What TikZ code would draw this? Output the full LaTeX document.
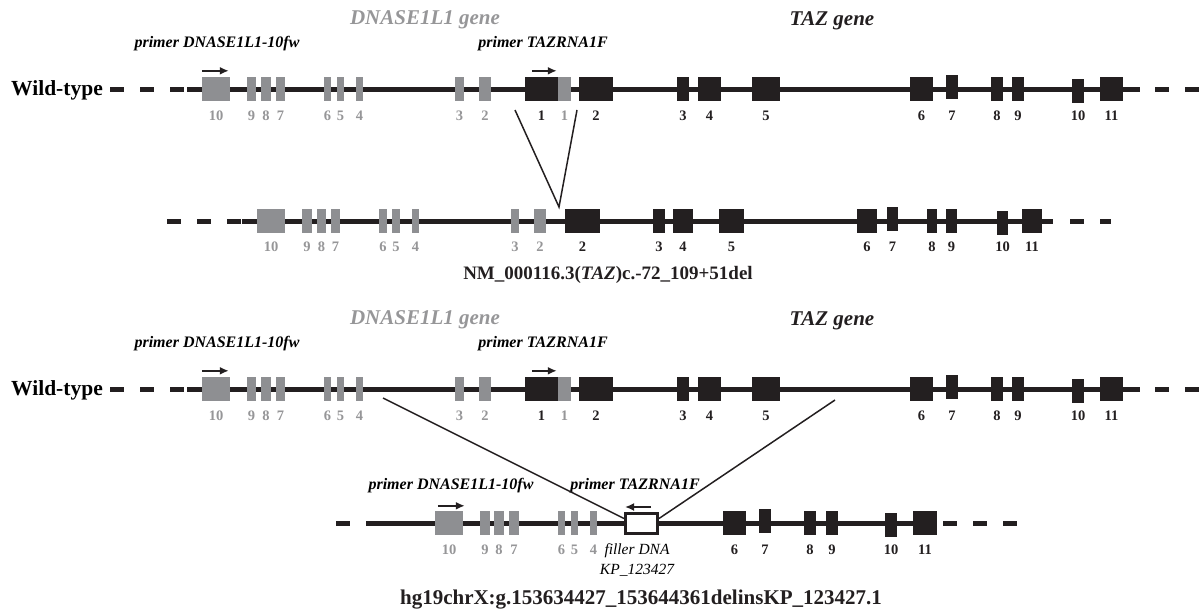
\documentclass[tikz,border=0pt]{standalone}
\usepackage{fontspec}
\setmainfont{Liberation Serif}
\usetikzlibrary{arrows.meta}
\definecolor{exongray}{RGB}{142,143,146}
\definecolor{textgray}{RGB}{150,150,152}
\definecolor{exonblack}{RGB}{35,31,32}

\begin{document}
\begin{tikzpicture}[x=1pt,y=-1pt,
  chrom/.style={line width=5pt,exonblack},
  gap/.style={chrom,dash pattern=on 14pt off 16pt},
  exon/.style={inner sep=0pt,minimum height=24pt},
  gexon/.style={exon,fill=exongray},
  bexon/.style={exon,fill=exonblack},
  num/.style={inner sep=0pt,font=\fontsize{14.5}{15}\selectfont\bfseries},
  gnum/.style={num,textgray},
  bnum/.style={num,exonblack},
  rowname/.style={anchor=east,inner sep=0pt,font=\fontsize{21.5}{25}\selectfont\bfseries},
  gene/.style={inner sep=0pt,font=\fontsize{21}{25}\selectfont\bfseries\itshape},
  primer/.style={inner sep=0pt,font=\fontsize{16}{19}\selectfont\bfseries\itshape},
  parrow/.style={line width=2pt,exonblack,-{Latex[length=9pt,width=8pt]}},
  cut/.style={line width=1.5pt,exonblack},
  hgvs/.style={inner sep=0pt,exonblack,font=\fontsize{19}{23}\selectfont\bfseries}]
\useasboundingbox (0,0) rectangle (1202,610);

% wild-type rows
\foreach \r/\y in {1/89,3/389}{
  \node[rowname] (wt\r) at (103,\y+1) {Wild-type};
  \draw[gap] (110,\y) -- (187,\y);
  \draw[chrom] (187,\y) -- (1140,\y);
  \draw[gap] (1155,\y) -- (1202,\y);
  \foreach \a/\b/\n in {202/230/10,247/256/9,261/271/8,276/285/7,324/331/6,337/344/5,356/363/4,455/464/3,479/491/2,558/571/1}{
    \node[gexon,minimum width=\b-\a] (r\r-g\n) at ({(\a+\b)/2},\y) {};
    \node[gnum] (r\r-gl\n) at ({(\a+\b)/2},\y+27) {\n};
  }
  \foreach \a/\b/\n/\d in {525/558/1/0,579/613/2/0,677/689/3/0,698/721/4/0,752/780/5/0,910/933/6/0,946/958/7/-2,991/1003/8/0,1012/1024/9/0,1072/1084/10/2,1100/1123/11/0}{
    \node[bexon,minimum width=\b-\a] (r\r-b\n) at ({(\a+\b)/2},\y+\d) {};
    \node[bnum] (r\r-bl\n) at ({(\a+\b)/2},\y+27) {\n};
  }
  \draw[parrow] ([yshift=6pt]r\r-g10.north west) -- ++(27,0);
  \draw[parrow] ([xshift=7pt,yshift=6pt]r\r-b1.north west) -- ++(25,0);
  \node[primer] (prd\r) at (217,\y-45) {primer DNASE1L1-10fw};
  \node[primer] (prt\r) at (543,\y-45) {primer TAZRNA1F};
  \node[gene,textgray] (dn\r) at (425,\y-69) {DNASE1L1 gene};
  \node[gene,exonblack] (taz\r) at (832,\y-68) {TAZ gene};
}

% small deletion
\draw[gap] (167,221) -- (242,221);
\draw[chrom] (242,221) -- (1053,221);
\draw[gap] (1070,221) -- (1111,221);
\foreach \a/\b/\n in {257/285/10,302/312/9,317/326/8,331/340/7,379/387/6,392/400/5,412/419/4,511/519/3,534/546/2}{
  \node[gexon,minimum width=\b-\a] (r2-g\n) at ({(\a+\b)/2},221) {};
  \node[gnum] (r2-gl\n) at ({(\a+\b)/2},247) {\n};
}
\foreach \a/\b/\n/\d in {565/600/2/0,653/665/3/0,673/693/4/0,719/744/5/0,857/877/6/0,887/898/7/-2,927/937/8/0,946/957/9/0,997/1008/10/2,1022/1042/11/0}{
  \node[bexon,minimum width=\b-\a] (r2-b\n) at ({(\a+\b)/2},221+\d) {};
  \node[bnum] (r2-bl\n) at ({(\a+\b)/2},247) {\n};
}
\node[hgvs] (del) at (608,275) {NM\_000116.3(\textit{TAZ})c.-72\_109+51del};

\coordinate (cut1a) at (515,110);
\coordinate (cut1b) at (577,110);
\coordinate (join1) at (559,207);
\draw[cut] (cut1a) -- (join1) -- (cut1b);

% deletion-insertion
\draw[gap] (336,523) -- (366,523);
\draw[chrom] (366,523) -- (937,523);
\draw[gap] (943,523) -- (1018,523);
\foreach \a/\b/\n in {435/463/10,480/490/9,494/504/8,509/519/7,558/565/6,571/578/5,590/597/4}{
  \node[gexon,minimum width=\b-\a] (r4-g\n) at ({(\a+\b)/2},523) {};
  \node[gnum] (r4-gl\n) at ({(\a+\b)/2},550) {\n};
}
\foreach \a/\b/\n/\d in {723/746/6/0,759/771/7/-2,804/816/8/0,826/838/9/0,885/897/10/2,913/937/11/0}{
  \node[bexon,minimum width=\b-\a] (r4-b\n) at ({(\a+\b)/2},523+\d) {};
  \node[bnum] (r4-bl\n) at ({(\a+\b)/2},550) {\n};
}
\node[draw=exonblack,line width=3pt,fill=white,inner sep=0pt,minimum width=32pt,minimum height=20pt] (filler) at (641.5,523.5) {};
\node[inner sep=0pt,align=center,font=\fontsize{15.5}{20}\selectfont\itshape] (fillertxt) at (637,560) {filler DNA\\KP\_123427};
\draw[parrow] ([xshift=3pt,yshift=5pt]r4-g10.north west) -- ++(27,0);
\draw[parrow] ([xshift=-8pt,yshift=5pt]filler.north east) -- ++(-26,0);
\node[primer] (prd4) at (451,486) {primer DNASE1L1-10fw};
\node[primer] (prt4) at (635,486) {primer TAZRNA1F};

\coordinate (cut3a) at (383,398);
\coordinate (cut3b) at (835,400);
\draw[cut] (cut3a) -- ([yshift=5pt]filler.west);
\draw[cut] (cut3b) -- ([yshift=5pt]filler.east);

\node[hgvs,font=\fontsize{21}{25}\selectfont\bfseries] (ins) at (641,600) {hg19chrX:g.153634427\_153644361delinsKP\_123427.1};
\end{tikzpicture}
\end{document}
